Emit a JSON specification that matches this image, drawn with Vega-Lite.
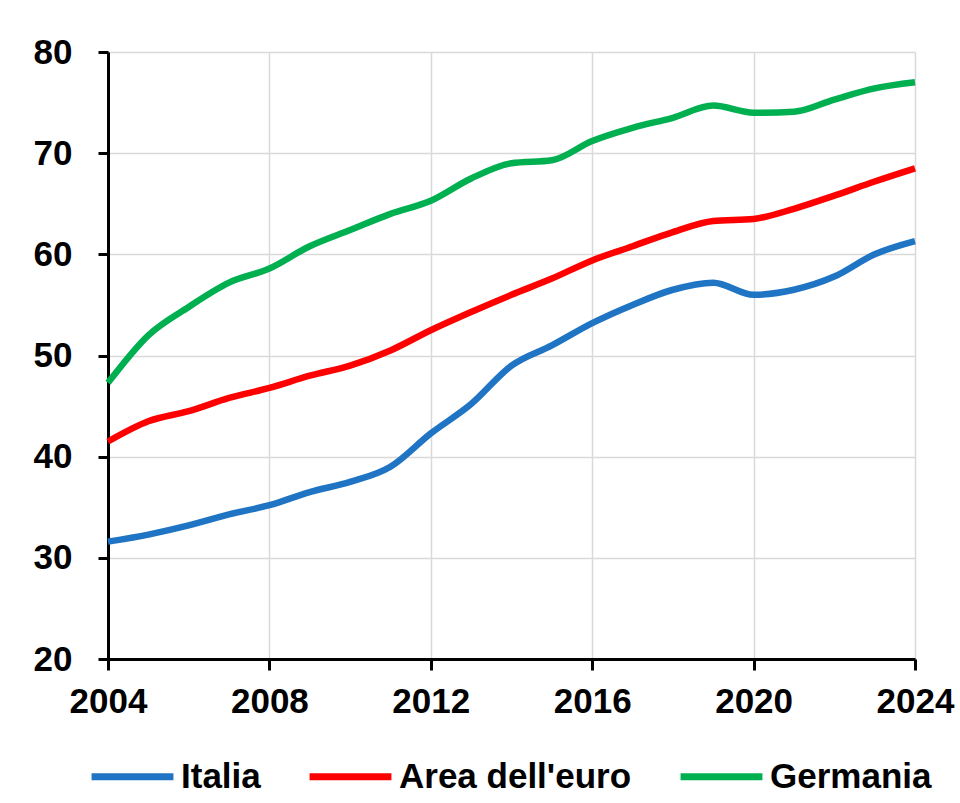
{
  "$schema": "https://vega.github.io/schema/vega-lite/v6.json",
  "autosize": {"type": "none"},
  "width": 807,
  "height": 607,
  "padding": {"left": 108, "top": 52, "right": 45, "bottom": 144},
  "background": "white",
  "config": {
    "view": {"stroke": null},
    "font": "Liberation Sans"
  },
  "data": {
    "values": [
      {"year": 2004, "series": "Italia", "value": 31.6},
      {"year": 2005, "series": "Italia", "value": 32.3},
      {"year": 2006, "series": "Italia", "value": 33.2},
      {"year": 2007, "series": "Italia", "value": 34.3},
      {"year": 2008, "series": "Italia", "value": 35.2},
      {"year": 2009, "series": "Italia", "value": 36.5},
      {"year": 2010, "series": "Italia", "value": 37.5},
      {"year": 2011, "series": "Italia", "value": 39.0},
      {"year": 2012, "series": "Italia", "value": 42.3},
      {"year": 2013, "series": "Italia", "value": 45.2},
      {"year": 2014, "series": "Italia", "value": 49.0},
      {"year": 2015, "series": "Italia", "value": 51.0},
      {"year": 2016, "series": "Italia", "value": 53.2},
      {"year": 2017, "series": "Italia", "value": 55.0},
      {"year": 2018, "series": "Italia", "value": 56.5},
      {"year": 2019, "series": "Italia", "value": 57.2},
      {"year": 2020, "series": "Italia", "value": 56.0},
      {"year": 2021, "series": "Italia", "value": 56.5},
      {"year": 2022, "series": "Italia", "value": 57.8},
      {"year": 2023, "series": "Italia", "value": 60.0},
      {"year": 2024, "series": "Italia", "value": 61.3},
      {"year": 2004, "series": "Area dell'euro", "value": 41.5},
      {"year": 2005, "series": "Area dell'euro", "value": 43.5},
      {"year": 2006, "series": "Area dell'euro", "value": 44.5},
      {"year": 2007, "series": "Area dell'euro", "value": 45.8},
      {"year": 2008, "series": "Area dell'euro", "value": 46.8},
      {"year": 2009, "series": "Area dell'euro", "value": 48.0},
      {"year": 2010, "series": "Area dell'euro", "value": 49.0},
      {"year": 2011, "series": "Area dell'euro", "value": 50.5},
      {"year": 2012, "series": "Area dell'euro", "value": 52.5},
      {"year": 2013, "series": "Area dell'euro", "value": 54.3},
      {"year": 2014, "series": "Area dell'euro", "value": 56.0},
      {"year": 2015, "series": "Area dell'euro", "value": 57.6},
      {"year": 2016, "series": "Area dell'euro", "value": 59.4},
      {"year": 2017, "series": "Area dell'euro", "value": 60.8},
      {"year": 2018, "series": "Area dell'euro", "value": 62.2},
      {"year": 2019, "series": "Area dell'euro", "value": 63.3},
      {"year": 2020, "series": "Area dell'euro", "value": 63.5},
      {"year": 2021, "series": "Area dell'euro", "value": 64.5},
      {"year": 2022, "series": "Area dell'euro", "value": 65.8},
      {"year": 2023, "series": "Area dell'euro", "value": 67.2},
      {"year": 2024, "series": "Area dell'euro", "value": 68.5},
      {"year": 2004, "series": "Germania", "value": 47.3},
      {"year": 2005, "series": "Germania", "value": 52.0},
      {"year": 2006, "series": "Germania", "value": 54.8},
      {"year": 2007, "series": "Germania", "value": 57.2},
      {"year": 2008, "series": "Germania", "value": 58.6},
      {"year": 2009, "series": "Germania", "value": 60.8},
      {"year": 2010, "series": "Germania", "value": 62.4},
      {"year": 2011, "series": "Germania", "value": 64.0},
      {"year": 2012, "series": "Germania", "value": 65.3},
      {"year": 2013, "series": "Germania", "value": 67.5},
      {"year": 2014, "series": "Germania", "value": 69.0},
      {"year": 2015, "series": "Germania", "value": 69.3},
      {"year": 2016, "series": "Germania", "value": 71.2},
      {"year": 2017, "series": "Germania", "value": 72.5},
      {"year": 2018, "series": "Germania", "value": 73.5},
      {"year": 2019, "series": "Germania", "value": 74.7},
      {"year": 2020, "series": "Germania", "value": 74.0},
      {"year": 2021, "series": "Germania", "value": 74.1},
      {"year": 2022, "series": "Germania", "value": 75.3},
      {"year": 2023, "series": "Germania", "value": 76.4},
      {"year": 2024, "series": "Germania", "value": 77.0}
    ]
  },
  "mark": {"type": "line", "interpolate": "monotone", "strokeWidth": 6.5},
  "encoding": {
    "x": {
      "field": "year",
      "type": "quantitative",
      "scale": {"domain": [2004, 2024], "nice": false, "zero": false},
      "axis": {
        "title": null,
        "values": [2004, 2008, 2012, 2016, 2020, 2024],
        "format": "d",
        "labelFont": "Liberation Sans",
        "labelFontWeight": "bold",
        "labelFontSize": 35,
        "labelColor": "black",
        "labelPadding": 14,
        "labelFlush": false,
        "labelOverlap": false,
        "tickSize": 11,
        "tickWidth": 3,
        "tickColor": "black",
        "domainColor": "black",
        "domainWidth": 3,
        "grid": true,
        "gridColor": "#d9d9d9",
        "gridWidth": 1.5
      }
    },
    "y": {
      "field": "value",
      "type": "quantitative",
      "scale": {"domain": [20, 80], "nice": false, "zero": false},
      "axis": {
        "title": null,
        "values": [20, 30, 40, 50, 60, 70, 80],
        "labelFont": "Liberation Sans",
        "labelFontWeight": "bold",
        "labelFontSize": 35,
        "labelColor": "black",
        "labelPadding": 26,
        "tickSize": 10,
        "tickWidth": 3,
        "tickColor": "black",
        "domainColor": "black",
        "domainWidth": 3,
        "grid": true,
        "gridColor": "#d9d9d9",
        "gridWidth": 1.5
      }
    },
    "color": {
      "field": "series",
      "type": "nominal",
      "sort": ["Italia", "Area dell'euro", "Germania"],
      "scale": {
        "domain": ["Italia", "Area dell'euro", "Germania"],
        "range": ["#1F74C4", "#FF0000", "#00B050"]
      },
      "legend": {
        "title": null,
        "orient": "none",
        "legendX": -20,
        "legendY": 680,
        "direction": "horizontal",
        "symbolType": "stroke",
        "symbolSize": 6700,
        "symbolStrokeWidth": 7,
        "labelFont": "Liberation Sans",
        "labelFontWeight": "bold",
        "labelFontSize": 35,
        "labelColor": "black",
        "labelOffset": 4,
        "columnPadding": 34,
        "labelLimit": 400
      }
    }
  }
}
